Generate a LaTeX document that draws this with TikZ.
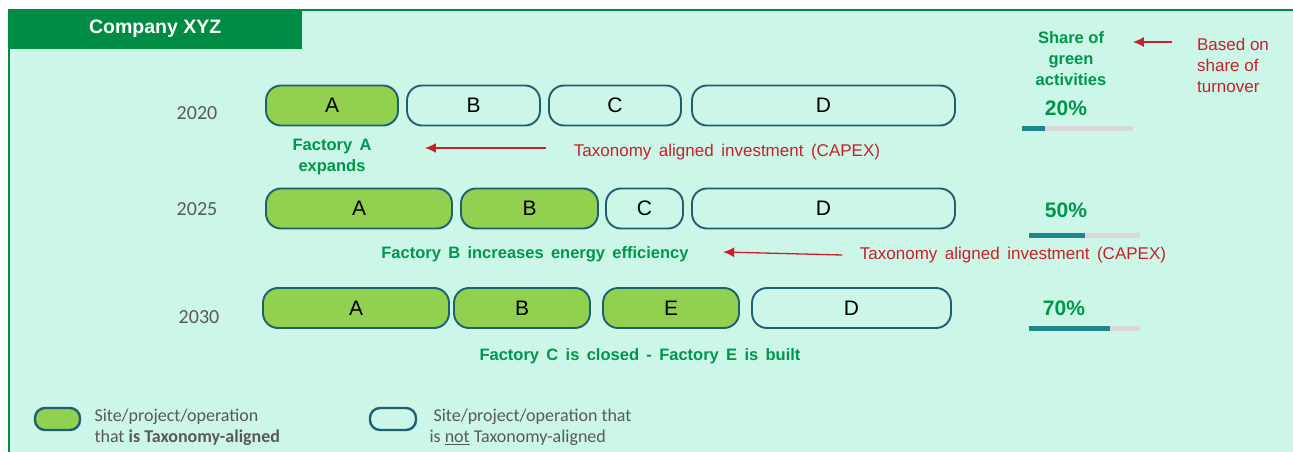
\documentclass[tikz,border=0pt]{standalone}
\usepackage{fontspec}
\setmainfont{Liberation Sans}
\newfontfamily\widefont[WordSpace=1.6]{Liberation Sans}
\newfontfamily\calfont{Carlito}
\usetikzlibrary{arrows.meta,positioning}

\definecolor{bgmint}{HTML}{CCF6E8}
\definecolor{headgreen}{HTML}{008C44}
\definecolor{pillgreen}{HTML}{92D050}
\definecolor{pilledge}{HTML}{1F6070}
\definecolor{txtgreen}{HTML}{00964B}
\definecolor{txtred}{HTML}{C8202A}
\definecolor{barteal}{HTML}{21868C}
\definecolor{bargray}{HTML}{D9D9D9}
\definecolor{yeargray}{HTML}{595959}

\def \barlen {111}
\def \barhgt {5}

\tikzset{
  site/.style={draw=pilledge, line width=1.9pt, rounded corners=15pt, minimum height=40pt, inner sep=0pt, font=\fontsize{21}{21}\selectfont},
  green site/.style={site, fill=pillgreen},
  open site/.style={site},
  year/.style={text=yeargray, font=\calfont\fontsize{20}{20}\selectfont},
  event/.style={text=txtgreen, font=\widefont\bfseries\fontsize{16.5}{21}\selectfont, align=center},
  capex/.style={text=txtred, font=\widefont\fontsize{17}{21}\selectfont, align=left},
  share/.style={text=txtgreen, font=\bfseries\fontsize{21}{21}\selectfont},
  capex arrow/.style={draw=txtred, line width=1.3pt, -{Latex[length=11pt,width=10pt]}},
  legend/.style={text=yeargray, font=\calfont\fontsize{18}{21}\selectfont, align=left, anchor=west}
}

\begin{document}
\begin{tikzpicture}[x=1pt, y=-1pt]
\useasboundingbox (0,0) rectangle (1293,452);
% frame
\fill[bgmint] (9,10) rectangle (1293,452);
\draw[headgreen, line width=2pt] (9,452) -- (9,10) -- (1293,10);
\node[fill=headgreen, anchor=north west, minimum width=294pt, minimum height=40pt, text=white, font=\bfseries\fontsize{19.5}{19.5}\selectfont] (hdr) at (8,9) {Company XYZ};

% 2020
\node[year] (y2020) at (197,113) {2020};
\node[green site, minimum width=132pt] (a20) at (332,105.5) {A};
\node[open site, minimum width=133pt] (b20) at (473.5,105.5) {B};
\node[open site, minimum width=132pt] (c20) at (615,105.5) {C};
\node[open site, minimum width=263pt] (d20) at (823.5,105.5) {D};
\node[event] (factA) at (332,157) {Factory A\\expands};
\node[capex] (capexA) at (727,152) {Taxonomy aligned investment (CAPEX)};
\draw[capex arrow] ([xshift=-24pt,yshift=4pt]capexA.west) -- ([xshift=50pt,yshift=9pt]factA.east);

% 2025
\node[year] (y2025) at (197,209) {2025};
\node[green site, minimum width=186pt] (a25) at (359,208.5) {A};
\node[green site, minimum width=137pt] (b25) at (529.5,208.5) {B};
\node[open site, minimum width=77pt] (c25) at (644.5,208.5) {C};
\node[open site, minimum width=263pt] (d25) at (823.5,208.5) {D};
\node[event] (factB) at (535,254) {Factory B increases energy efficiency};
\node[capex] (capexB) at (1013,255) {Taxonomy aligned investment (CAPEX)};
\draw[capex arrow] ([xshift=-14pt]capexB.west) -- ([xshift=31pt,yshift=2pt]factB.east);

% 2030
\node[year] (y2030) at (199,317) {2030};
\node[green site, minimum width=186pt] (a30) at (356,308) {A};
\node[green site, minimum width=136pt] (b30) at (522,308) {B};
\node[green site, minimum width=136pt] (e30) at (671,308) {E};
\node[open site, minimum width=199pt] (d30) at (851.5,308) {D};
\node[event] (factCE) at (640,356) {Factory C is closed - Factory E is built};

% share of green activities
\node[event, font=\bfseries\fontsize{16.5}{21}\selectfont] (greenshare) at (1071,59) {Share of\\green\\activities};
\node[capex, font=\fontsize{17}{21}\selectfont] (turnover) at (1233,65) {Based on\\share of\\turnover};
\draw[capex arrow] ([xshift=-22pt,yshift=23pt]turnover.west) -- ([xshift=23pt,yshift=17pt]greenshare.east);

\node[share] (s20) at (1066,108) {20\%};
\fill[bargray] (1022,126) rectangle ++(\barlen,\barhgt);
\fill[barteal] (1022,126) rectangle ++(23,\barhgt);
\node[share] (s25) at (1066,210) {50\%};
\fill[bargray] (1029,233) rectangle ++(\barlen,\barhgt);
\fill[barteal] (1029,233) rectangle ++(56,\barhgt);
\node[share] (s30) at (1064,308) {70\%};
\fill[bargray] (1029,326) rectangle ++(\barlen,\barhgt);
\fill[barteal] (1029,326) rectangle ++(81,\barhgt);

% legend
\node[green site, line width=2.4pt, minimum width=45pt, minimum height=22pt, rounded corners=10pt] (keyin) at (57.5,419) {};
\node[legend] (keyintxt) at (91,427) {Site/project/operation\\that \textbf{is Taxonomy-aligned}};
\node[open site, line width=2.4pt, minimum width=46pt, minimum height=22pt, rounded corners=10pt] (keyout) at (393,419) {};
\node[legend] (keyouttxt) at (426,427) {\ Site/project/operation that\\is \underline{not} Taxonomy-aligned};
\end{tikzpicture}
\end{document}
